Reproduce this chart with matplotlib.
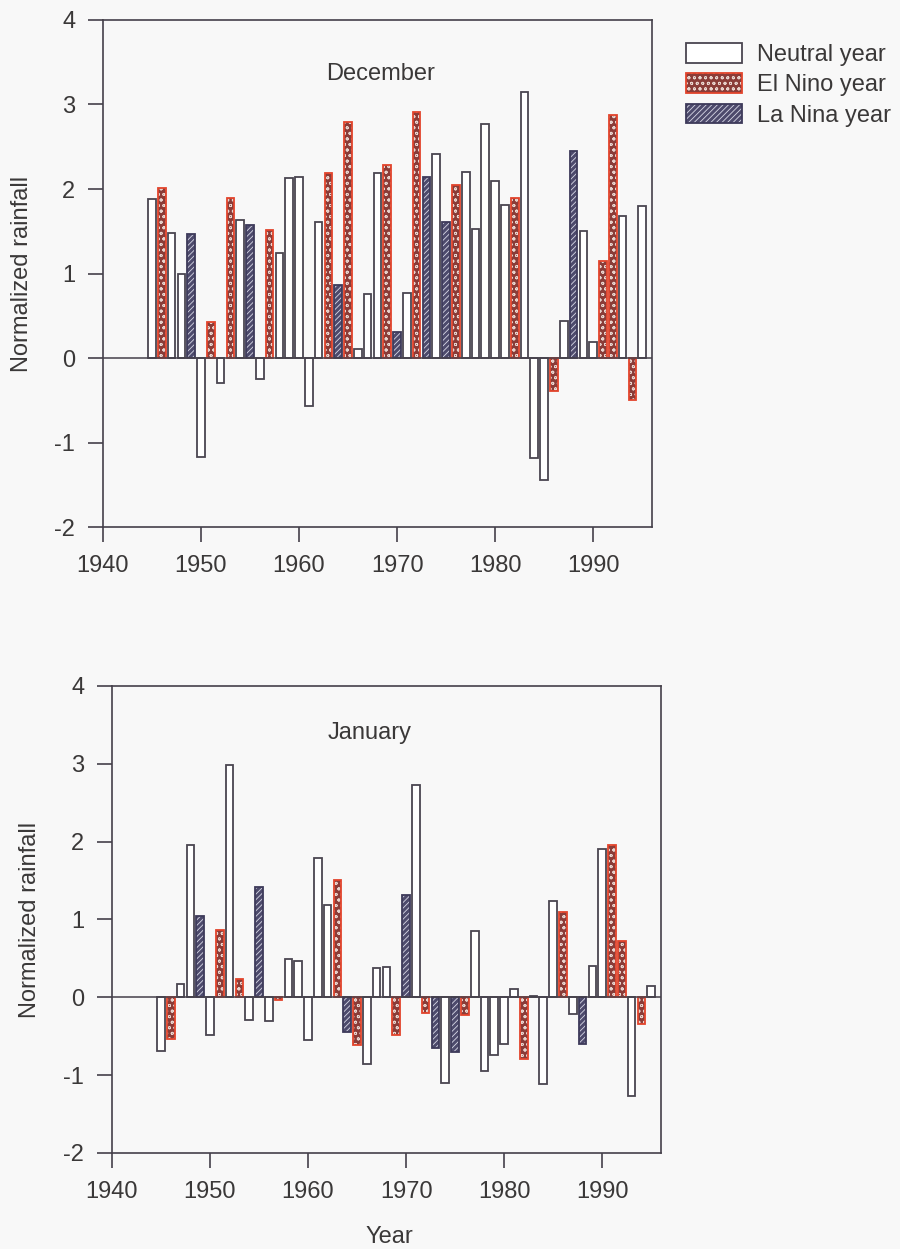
import matplotlib
matplotlib.use("Agg")
import matplotlib.pyplot as plt
from matplotlib.patches import Patch

plt.rcParams['font.family'] = ['Liberation Sans', 'DejaVu Sans']
plt.rcParams['hatch.linewidth'] = 0.6
plt.rcParams['axes.unicode_minus'] = False

# data
years = list(range(1945, 1996))
# N = neutral, E = El Nino, L = La Nina (same for both months)
year_type = ['N', 'E', 'N', 'N', 'L', 'N', 'E', 'N', 'E', 'N',
             'L', 'N', 'E', 'N', 'N', 'N', 'N', 'N', 'E', 'L',
             'E', 'N', 'N', 'N', 'E', 'L', 'N', 'E', 'L', 'N',
             'L', 'E', 'N', 'N', 'N', 'N', 'N', 'E', 'N', 'N',
             'N', 'E', 'N', 'L', 'N', 'N', 'E', 'E', 'N', 'E',
             'N']
december = [1.88, 2.01, 1.48, 0.99, 1.47, -1.17, 0.43, -0.29, 1.89, 1.63,
            1.57, -0.25, 1.51, 1.24, 2.13, 2.14, -0.57, 1.61, 2.19, 0.87,
            2.79, 0.11, 0.76, 2.19, 2.29, 0.31, 0.77, 2.91, 2.14, 2.41,
            1.61, 2.05, 2.20, 1.53, 2.77, 2.10, 1.81, 1.89, 3.15, -1.18,
            -1.44, -0.39, 0.44, 2.45, 1.50, 0.19, 1.15, 2.88, 1.68, -0.50,
            1.80]
january = [-0.69, -0.54, 0.17, 1.96, 1.04, -0.48, 0.87, 2.98, 0.23, -0.29,
           1.42, -0.31, -0.03, 0.49, 0.47, -0.55, 1.79, 1.19, 1.51, -0.45,
           -0.61, -0.86, 0.37, 0.39, -0.48, 1.31, 2.73, -0.20, -0.65, -1.10,
           -0.70, -0.23, 0.85, -0.95, -0.74, -0.60, 0.11, -0.79, 0.02, -1.12,
           1.24, 1.09, -0.21, -0.60, 0.40, 1.91, 1.96, 0.72, -1.27, -0.35,
           0.14]
labels = {'N': 'Neutral year', 'E': 'El Nino year', 'L': 'La Nina year'}

AX = '#45404a'
TXT = '#3a3838'
BG = '#f8f8f8'
styles = {
    'N': dict(face='white', hatch=None, hatch_col='white', edge='#4a4550'),
    'E': dict(face='#8a3c38', hatch='ooo', hatch_col='#e8d4ce', edge='#e2442c'),
    'L': dict(face='#4d4a6c', hatch='//////', hatch_col='#d8d8e6', edge='#3d3a5a'),
}
W = 0.78
FS = 17

fig = plt.figure(figsize=(9, 12.49), dpi=100, facecolor=BG)
ax1 = fig.add_axes([0.1144, 0.578, 0.61, 0.406])
ax2 = fig.add_axes([0.1244, 0.0769, 0.61, 0.374])


def draw(ax, vals, title, tx, ty):
    ax.set_facecolor(BG)
    for t in ['N', 'E', 'L']:
        xs = [y for y, k in zip(years, year_type) if k == t]
        hs = [v for v, k in zip(vals, year_type) if k == t]
        s = styles[t]
        if s['hatch']:
            ax.bar(xs, hs, W, color=s['face'], hatch=s['hatch'],
                   edgecolor=s['hatch_col'], linewidth=0, zorder=2)
            ax.bar(xs, hs, W, fill=False, edgecolor=s['edge'], linewidth=1.3, zorder=3)
        else:
            ax.bar(xs, hs, W, color=s['face'], edgecolor=s['edge'], linewidth=1.3, zorder=2)
    ax.axhline(0, color=AX, lw=1.1, zorder=4)
    ax.set_xlim(1940, 1996)
    ax.set_ylim(-2, 4)
    ax.set_xticks([1940, 1950, 1960, 1970, 1980, 1990])
    ax.set_yticks([-2, -1, 0, 1, 2, 3, 4])
    for sp in ax.spines.values():
        sp.set_color(AX)
        sp.set_linewidth(1.2)
    ax.tick_params(direction='out', length=11, width=1.2, color=AX,
                   labelsize=FS, labelcolor=TXT, pad=9)
    ax.text(tx, ty, title, transform=ax.transAxes, ha='center', va='center',
            fontsize=FS, color=TXT)


draw(ax1, december, 'December', 0.506, 0.893)
draw(ax2, january, 'January', 0.47, 0.90)

fig.text(22 / 900, 1 - 274 / 1249, 'Normalized rainfall', rotation=90,
         ha='center', va='center', fontsize=FS, color=TXT)
fig.text(30 / 900, 1 - 920 / 1249, 'Normalized rainfall', rotation=90,
         ha='center', va='center', fontsize=FS, color=TXT)
fig.text(389 / 900, 1 - 1237 / 1249, 'Year', ha='center', va='center',
         fontsize=FS, color=TXT)

handles = []
for t in ['N', 'E', 'L']:
    s = styles[t]
    if s['hatch']:
        h = (Patch(facecolor=s['face'], hatch=s['hatch'], edgecolor=s['hatch_col'], linewidth=0),
             Patch(fill=False, edgecolor=s['edge'], linewidth=1.3))
    else:
        h = Patch(facecolor=s['face'], edgecolor=s['edge'], linewidth=1.3)
    handles.append(h)
fig.legend(handles, [labels[t] for t in ['N', 'E', 'L']],
           loc='upper left', bbox_to_anchor=(0.749, 0.975), frameon=False,
           fontsize=FS, handlelength=2.37, handleheight=0.9, labelspacing=0.31,
           handletextpad=0.62, borderpad=0, labelcolor=TXT)

fig.savefig('out.png', dpi=100, facecolor=BG)
